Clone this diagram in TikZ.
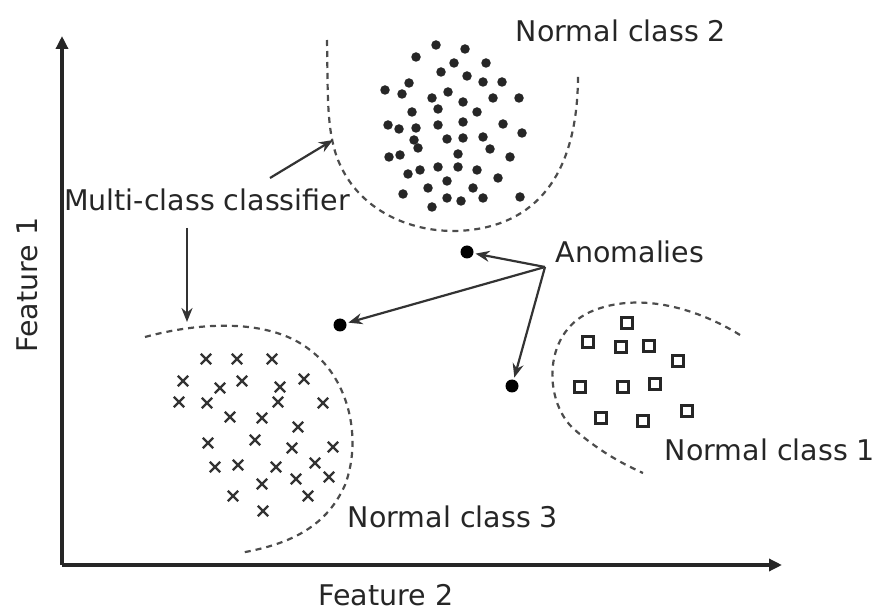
\documentclass[tikz,border=0pt]{standalone}
\usepackage{fontspec}
\setmainfont{DejaVu Sans}
\usetikzlibrary{arrows.meta,shapes.misc}
\begin{document}
\begin{tikzpicture}[x=1pt,y=-1pt,
  lbl/.style={font=\fontsize{28.5}{32}\selectfont, text=black!85, inner sep=0pt},
  axis/.style={line width=3.4pt, draw=black!85, -{Triangle[length=13pt,width=12pt]}},
  boundary/.style={line width=2.2pt, draw=black!70, dash pattern=on 6pt off 5pt},
  pointer/.style={line width=2.2pt, draw=black!80, -{Stealth[length=14pt,width=11pt]}, shorten >=2pt},
  dotpt/.style={circle, fill=black!85, inner sep=0pt, minimum size=9.5pt},
  anomaly/.style={circle, fill=black, inner sep=0pt, minimum size=13pt},
  crosspt/.style={cross out, draw=black!80, line width=2.4pt, inner sep=0pt, minimum size=8pt},
  boxpt/.style={rectangle, draw=black!85, line width=2.6pt, inner sep=0pt, minimum size=10.5pt}]
\useasboundingbox (0,0) rectangle (879,612);
\fill[white] (0,0) rectangle (879,612);

% axes
\coordinate (O) at (62,565);
\coordinate (ytip) at (62,36);
\coordinate (xtip) at (782,565);
\draw[axis] (O) -- (ytip);
\draw[axis] (O) -- (xtip);
\node[lbl, rotate=90] (f1) at (27,285) {Feature 1};
\node[lbl, anchor=base] (f2) at (386,605) {Feature 2};

% class 2: filled dots
\foreach \p in {(436,45),(465,49),(416,57),(454,63),(486,63),(441,72),(467,76),
  (409,83),(483,82),(502,82),(385,90),(402,94),(448,92),(432,98),(493,98),(519,98),
  (463,102),(412,112),(438,109),(477,112),(388,125),(399,129),(416,128),(438,125),
  (463,122),(503,124),(522,133),(447,139),(463,138),(483,137),(414,140),(418,148),
  (490,149),(389,157),(400,155),(458,154),(510,157),(408,174),(420,170),(438,167),
  (458,167),(477,170),(498,178),(447,181),(428,188),(473,188),(403,194),(447,198),
  (461,201),(483,198),(520,197),(432,207)}
  \node[dotpt] at \p {};

% class 3: crosses
\foreach \p in {(206,359),(237,359),(272,359),(183,381),(220,388),(242,381),(280,387),
  (304,379),(179,402),(207,403),(278,402),(323,403),(230,417),(262,418),(298,427),
  (208,443),(255,440),(292,448),(333,447),(215,467),(238,465),(276,467),(315,463),
  (262,484),(296,479),(329,477),(233,496),(308,496),(263,511)}
  \node[crosspt] at \p {};

% class 1: squares
\foreach \p in {(627,323),(588,342),(621,347),(649,346),(678,361),(580,387),
  (623,387),(655,384),(687,411),(601,418),(643,421)}
  \node[boxpt] at \p {};

% decision boundaries
\draw[boundary] (327,40) .. controls (328,90) and (326,130) .. (338,160)
  .. controls (360,215) and (420,236) .. (470,230)
  .. controls (540,222) and (578,170) .. (578,75);
\draw[boundary] (145,337) .. controls (200,322) and (270,318) .. (310,350)
  .. controls (350,380) and (362,440) .. (345,485)
  .. controls (325,530) and (285,545) .. (240,553);
\draw[boundary] (740,335) .. controls (700,310) and (640,290) .. (590,312)
  .. controls (540,335) and (545,405) .. (575,430)
  .. controls (600,452) and (625,465) .. (643,473);

% anomalies
\node[anomaly] (a1) at (467,252) {};
\node[anomaly] (a2) at (340,325) {};
\node[anomaly] (a3) at (512,386) {};

% labels
\node[lbl] (nc2) at (621,31) {Normal class 2};
\node[lbl] (nc1) at (770,450) {Normal class 1};
\node[lbl] (nc3) at (453,517) {Normal class 3};
\node[lbl] (mcc) at (207,200) {Multi-class classifier};
\node[lbl] (anom) at (630,252) {Anomalies};

% pointers
\coordinate (mccR) at (270,178);
\coordinate (mccD) at (187,228);
\coordinate (b2) at (333,140);
\coordinate (b3) at (187,322);
\draw[pointer, shorten >=0pt] (mccR) -- (b2);
\draw[pointer, shorten >=0pt] (mccD) -- (b3);
\coordinate (asrc) at (545,267);
\draw[pointer] (asrc) -- (a1);
\draw[pointer] (asrc) -- (a2);
\draw[pointer] (asrc) -- (a3);
\end{tikzpicture}
\end{document}
